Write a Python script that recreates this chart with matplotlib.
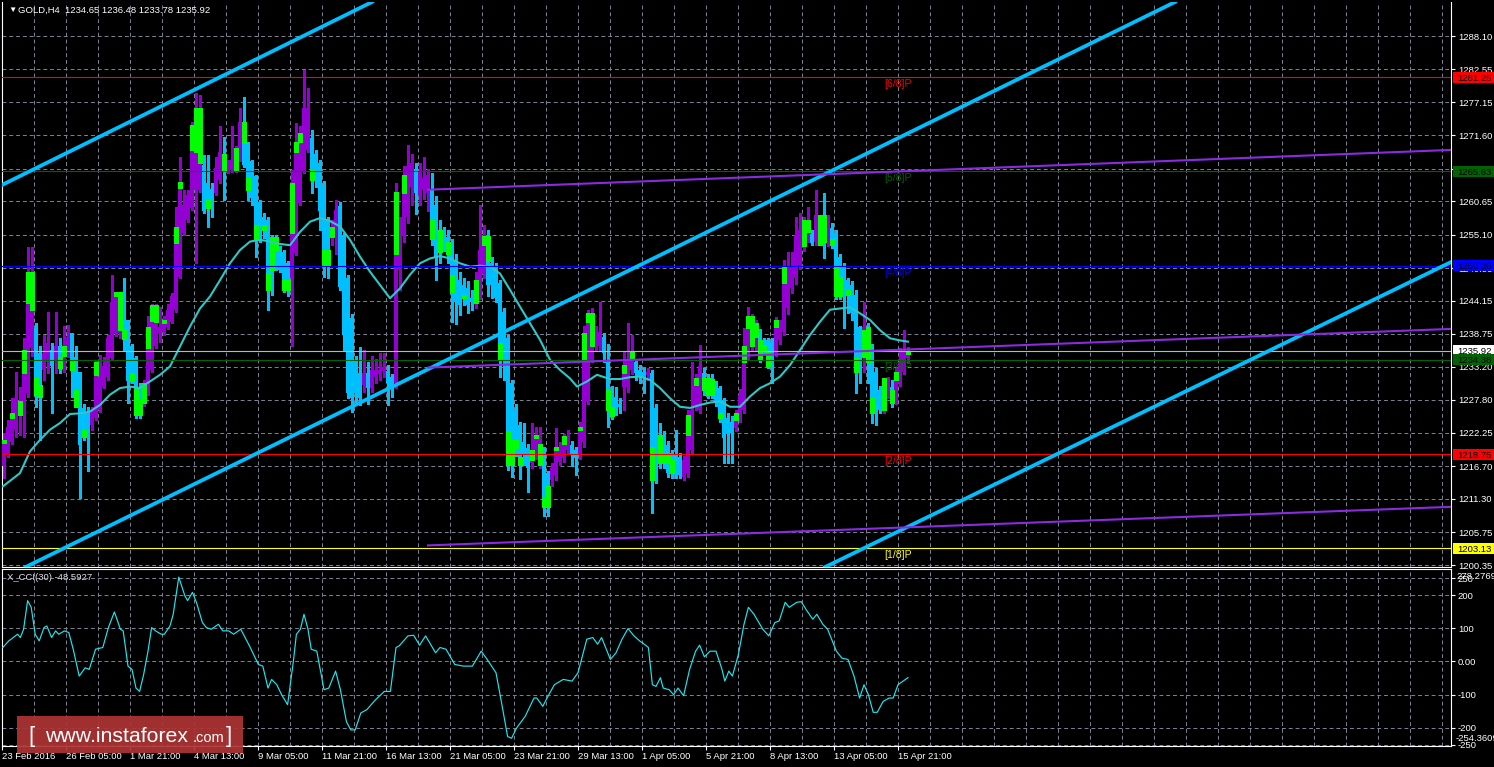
import matplotlib
matplotlib.use("Agg")
import matplotlib.pyplot as plt
from matplotlib.patches import Rectangle
from matplotlib.transforms import blended_transform_factory

plt.rcParams['font.family'] = ['Liberation Sans', 'DejaVu Sans']

# ---- GOLD H4 candles (bar index 0 = 23 Feb 2016) ----
opens = [
    1216.7, 1218.6, 1220.8, 1222.8, 1225.25, 1225.25, 1228.85, 1236.3, 1239.6, 1235.5,
    1232.7, 1234.1, 1236.0, 1234.4, 1236.6, 1232.7, 1235.5, 1238.8, 1234.9, 1232.4,
    1226.4, 1225.8, 1223.6, 1224.7, 1226.1, 1229.95, 1231.6, 1234.65, 1238.8, 1238.8,
    1241.3, 1241.0, 1236.6, 1234.65, 1229.95, 1227.2, 1228.85, 1232.7, 1236.6, 1238.8,
    1239.1, 1239.9, 1240.7, 1242.67, 1248.2, 1255.4, 1257.6, 1259.5, 1262.57, 1262.57,
    1266.7, 1263.7, 1262.8, 1262.0, 1264.2, 1268.6, 1265.9, 1265.9, 1265.9, 1267.5,
    1273.9, 1270.3, 1267.3, 1264.8, 1260.6, 1258.1, 1257.6, 1254.8, 1254.8, 1252.9,
    1252.3, 1250.4, 1247.9, 1252.1, 1260.4, 1265.6, 1269.2, 1271.1, 1268.6, 1267.0,
    1263.4, 1257.6, 1254.8, 1255.1, 1259.9, 1255.1, 1247.9, 1241.3, 1234.4, 1232.2,
    1230.2, 1232.2, 1229.7, 1231.5, 1232.0, 1232.5, 1232.5, 1231.5, 1230.5, 1249.3,
    1255.0, 1258.0, 1263.0, 1266.0, 1261.5, 1262.5, 1262.0, 1262.6, 1260.1, 1255.9,
    1255.4, 1254.8, 1254.0, 1251.0, 1247.6, 1246.8, 1246.3, 1244.6, 1243.8, 1245.1,
    1248.7, 1254.9, 1250.4, 1249.8, 1247.1, 1242.4, 1238.0, 1230.5, 1226.1, 1223.6,
    1220.8, 1219.7, 1217.2, 1218.6, 1216.9, 1219.4, 1215.6, 1214.5, 1215.3, 1217.5,
    1218.1, 1219.4, 1220.3, 1219.4, 1218.6, 1220.8, 1227.4, 1234.4, 1236.6, 1236.6,
    1238.2, 1234.0, 1229.4, 1228.3, 1227.0, 1229.9, 1229.9, 1232.7, 1234.1, 1232.7,
    1232.4, 1231.9, 1232.15, 1226.4, 1221.9, 1221.9, 1220.3, 1218.9, 1218.6, 1218.3,
    1215.0, 1215.6, 1219.45, 1226.6, 1226.1, 1232.15, 1231.3, 1231.2, 1229.7, 1229.7,
    1227.7, 1224.7, 1224.1, 1223.0, 1224.4, 1226.1, 1234.9, 1236.6, 1236.6, 1238.8,
    1237.7, 1237.7, 1237.4, 1235.5, 1237.7, 1239.07, 1242.9, 1246.3, 1247.9, 1250.1,
    1253.2, 1254.5, 1255.3, 1254.0, 1256.5, 1256.2, 1255.1, 1256.2, 1255.3, 1251.5,
    1249.85, 1247.6, 1246.8, 1245.15, 1239.9, 1236.58, 1239.9, 1236.58, 1232.4, 1229.4,
    1226.1, 1228.8, 1229.9, 1228.8, 1230.5, 1232.4, 1234.65,
]
highs = [
    1222.2, 1224.4, 1228.0, 1232.4, 1229.95, 1237.97, 1253.17, 1253.17, 1240.45, 1236.6,
    1238.5, 1242.4, 1237.2, 1242.4, 1238.0, 1240.0, 1240.2, 1238.8, 1236.6, 1232.4,
    1227.0, 1226.6, 1226.6, 1234.4, 1235.2, 1234.9, 1238.5, 1248.47, 1245.7, 1245.7,
    1247.9, 1241.0, 1237.0, 1235.0, 1230.5, 1231.0, 1241.6, 1243.7, 1243.7, 1243.2,
    1241.6, 1243.7, 1245.4, 1259.8, 1268.1, 1262.57, 1262.57, 1273.9, 1278.6, 1278.3,
    1268.4, 1268.4, 1263.7, 1268.1, 1273.1, 1271.4, 1267.5, 1273.1, 1269.8, 1276.1,
    1278.0, 1270.6, 1267.5, 1265.0, 1260.9, 1258.7, 1258.1, 1255.1, 1255.1, 1253.2,
    1252.6, 1250.7, 1265.9, 1273.6, 1273.1, 1282.5, 1279.5, 1272.5, 1269.2, 1267.5,
    1264.0, 1258.0, 1257.5, 1260.9, 1260.5, 1255.5, 1248.5, 1242.0, 1235.0, 1236.5,
    1236.0, 1234.0, 1235.0, 1234.5, 1235.5, 1235.5, 1233.5, 1232.0, 1263.7, 1258.0,
    1266.5, 1270.0, 1268.5, 1267.0, 1267.0, 1268.0, 1266.0, 1265.3, 1261.5, 1257.5,
    1256.5, 1256.0, 1254.5, 1252.0, 1249.0, 1248.0, 1247.5, 1246.0, 1249.0, 1260.1,
    1256.8, 1256.0, 1251.5, 1250.5, 1247.6, 1243.0, 1238.5, 1231.0, 1227.0, 1224.0,
    1223.9, 1220.5, 1223.9, 1223.3, 1223.3, 1220.0, 1216.0, 1217.2, 1223.0, 1220.8,
    1222.0, 1222.8, 1221.0, 1220.0, 1224.0, 1240.0, 1242.7, 1243.0, 1240.0, 1244.0,
    1238.8, 1237.0, 1230.0, 1229.9, 1228.0, 1235.75, 1240.45, 1238.5, 1234.4, 1233.5,
    1233.0, 1233.0, 1232.7, 1227.0, 1223.9, 1222.5, 1221.0, 1219.5, 1222.8, 1219.0,
    1218.5, 1226.0, 1234.1, 1232.0, 1236.9, 1233.0, 1232.0, 1232.0, 1230.8, 1230.0,
    1228.0, 1225.5, 1225.0, 1226.0, 1229.5, 1239.6, 1243.2, 1242.0, 1241.0, 1239.5,
    1238.0, 1238.0, 1238.0, 1241.5, 1241.0, 1250.95, 1252.3, 1252.3, 1258.1, 1258.7,
    1258.0, 1259.8, 1256.0, 1262.6, 1258.4, 1262.0, 1258.4, 1257.0, 1256.0, 1252.0,
    1250.5, 1248.0, 1247.5, 1246.0, 1240.0, 1244.05, 1240.5, 1237.0, 1233.0, 1230.0,
    1230.5, 1231.5, 1231.0, 1233.0, 1236.3, 1239.3, 1236.48,
]
lows = [
    1214.75, 1218.3, 1220.5, 1221.65, 1221.9, 1221.65, 1228.3, 1235.0, 1226.6, 1221.1,
    1231.0, 1232.15, 1225.5, 1232.15, 1232.2, 1232.4, 1234.9, 1228.3, 1226.6, 1211.4,
    1221.1, 1215.9, 1222.8, 1224.4, 1225.8, 1229.7, 1231.0, 1234.4, 1238.3, 1238.0,
    1236.0, 1227.2, 1230.5, 1224.7, 1224.7, 1226.8, 1228.6, 1232.4, 1236.3, 1237.4,
    1238.5, 1239.5, 1240.45, 1242.4, 1247.9, 1255.1, 1257.3, 1259.2, 1250.4, 1262.3,
    1258.7, 1256.5, 1258.1, 1261.7, 1263.7, 1260.9, 1265.3, 1265.6, 1265.6, 1267.3,
    1266.4, 1260.9, 1260.1, 1251.5, 1254.0, 1254.6, 1242.67, 1245.15, 1249.3, 1249.0,
    1245.7, 1244.9, 1236.6, 1251.8, 1260.1, 1265.3, 1268.9, 1262.0, 1263.0, 1255.9,
    1248.2, 1247.9, 1253.5, 1252.0, 1246.0, 1236.0, 1228.0, 1225.8, 1226.9, 1226.9,
    1229.0, 1227.0, 1229.0, 1230.5, 1231.0, 1231.5, 1226.9, 1228.3, 1229.7, 1246.0,
    1254.0, 1257.0, 1260.0, 1258.5, 1260.0, 1261.0, 1259.0, 1253.5, 1247.6, 1250.5,
    1252.5, 1250.5, 1240.7, 1240.4, 1241.8, 1243.5, 1242.1, 1242.7, 1243.0, 1244.5,
    1248.0, 1245.0, 1244.6, 1244.0, 1231.6, 1231.0, 1216.1, 1215.0, 1218.5, 1214.7,
    1217.0, 1212.5, 1216.5, 1218.0, 1216.5, 1208.4, 1208.4, 1213.4, 1214.5, 1217.0,
    1217.5, 1219.0, 1216.7, 1215.3, 1218.0, 1220.0, 1227.0, 1234.0, 1236.0, 1236.0,
    1234.0, 1223.3, 1224.5, 1225.25, 1225.5, 1226.1, 1229.0, 1232.0, 1231.0, 1230.5,
    1228.8, 1231.0, 1208.9, 1213.9, 1216.5, 1216.5, 1215.0, 1214.75, 1214.75, 1214.8,
    1214.5, 1215.0, 1219.0, 1226.0, 1225.5, 1228.5, 1228.0, 1228.0, 1226.8, 1224.0,
    1217.2, 1217.2, 1217.2, 1222.5, 1224.0, 1225.5, 1234.5, 1236.0, 1236.0, 1234.0,
    1235.5, 1233.0, 1230.5, 1235.0, 1237.0, 1238.5, 1242.0, 1245.5, 1247.0, 1249.5,
    1252.5, 1254.0, 1253.4, 1253.5, 1253.4, 1251.2, 1253.2, 1253.0, 1244.5, 1244.5,
    1239.6, 1242.1, 1241.0, 1228.8, 1230.5, 1232.4, 1230.5, 1223.9, 1223.6, 1225.5,
    1225.5, 1228.0, 1226.5, 1227.0, 1230.0, 1232.0, 1233.78,
]
closes = [
    1221.1, 1223.3, 1225.5, 1228.0, 1227.5, 1236.0, 1249.0, 1249.0, 1228.57, 1228.3,
    1235.5, 1237.2, 1233.3, 1236.6, 1233.0, 1236.6, 1238.2, 1232.7, 1226.6, 1220.3,
    1221.6, 1222.5, 1226.1, 1234.1, 1231.6, 1233.3, 1238.0, 1244.05, 1245.7, 1241.8,
    1238.0, 1230.8, 1230.8, 1225.25, 1225.25, 1230.5, 1239.9, 1243.5, 1243.5, 1239.9,
    1241.0, 1242.6, 1244.9, 1256.5, 1263.95, 1260.1, 1261.7, 1273.35, 1276.1, 1276.1,
    1259.0, 1259.5, 1260.9, 1266.2, 1268.9, 1265.9, 1267.3, 1267.5, 1269.5, 1273.9,
    1266.7, 1262.57, 1261.2, 1254.3, 1254.3, 1255.9, 1246.0, 1246.0, 1252.6, 1249.3,
    1246.0, 1246.0, 1263.7, 1270.6, 1272.0, 1276.1, 1276.1, 1264.2, 1264.2, 1259.0,
    1250.1, 1250.1, 1256.5, 1259.2, 1246.5, 1238.5, 1228.8, 1228.0, 1228.8, 1228.0,
    1232.2, 1229.7, 1232.7, 1232.7, 1232.7, 1233.2, 1230.5, 1230.0, 1262.3, 1257.3,
    1265.0, 1266.5, 1267.0, 1262.0, 1265.5, 1264.5, 1265.0, 1254.5, 1251.5, 1252.3,
    1254.8, 1252.0, 1245.7, 1244.0, 1243.5, 1244.6, 1243.5, 1244.0, 1247.7, 1252.6,
    1254.9, 1246.8, 1246.8, 1244.6, 1234.6, 1234.4, 1216.9, 1216.9, 1219.7, 1216.9,
    1218.6, 1216.4, 1219.4, 1221.9, 1221.9, 1210.0, 1210.0, 1216.4, 1220.0, 1219.4,
    1221.7, 1220.8, 1218.6, 1218.1, 1223.3, 1238.8, 1242.1, 1242.1, 1238.8, 1239.0,
    1235.5, 1226.1, 1225.0, 1226.1, 1226.5, 1233.5, 1234.4, 1235.75, 1232.15, 1231.6,
    1231.6, 1232.4, 1214.5, 1214.5, 1217.2, 1217.2, 1215.6, 1215.6, 1215.3, 1215.3,
    1217.8, 1225.25, 1226.1, 1231.3, 1233.3, 1229.4, 1228.6, 1228.6, 1227.5, 1224.7,
    1221.4, 1222.2, 1222.2, 1225.6, 1228.6, 1236.6, 1241.6, 1241.6, 1240.45, 1234.4,
    1236.0, 1233.3, 1233.3, 1241.0, 1240.45, 1249.85, 1249.85, 1249.85, 1255.1, 1255.9,
    1257.6, 1257.6, 1253.7, 1258.4, 1254.8, 1254.0, 1258.1, 1253.4, 1244.9, 1246.0,
    1244.9, 1245.15, 1242.1, 1232.4, 1232.4, 1239.9, 1234.1, 1225.5, 1225.5, 1226.1,
    1229.9, 1231.0, 1227.2, 1232.4, 1234.1, 1235.75, 1235.92,
]

# hollow lime candle parts seen on top of the coloured bodies
lime_bar = [0, 2, 4, 5, 6, 7, 8, 9, 14, 15, 17, 18, 20, 23, 28, 29, 30, 32, 33, 34,
            35, 36, 37, 38, 40, 43, 44, 47, 48, 49, 51, 55, 58, 60, 61, 63, 65, 66, 67, 68,
            70, 71, 72, 73, 74, 77, 80, 81, 82, 98, 100, 107, 109, 111, 112, 115, 118, 120, 121, 124,
            126, 127, 128, 129, 132, 133, 134, 135, 136, 138, 140, 144, 145, 146, 147, 151, 152, 155, 157, 162,
            164, 165, 166, 167, 171, 173, 175, 176, 177, 179, 183, 185, 186, 187, 188, 189, 190, 191, 193, 195,
            200, 201, 204, 205, 207, 208, 209, 211, 213, 215, 216, 217, 220, 222, 223, 226]
lime_lo = [1220.55, 1224.8, 1225.25, 1232.15, 1243.77, 1242.67, 1228.57, 1228.3, 1233.0, 1235.0,
           1232.7, 1226.6, 1221.6, 1231.9, 1244.9, 1239.3, 1237.8, 1230.8, 1225.25, 1225.25,
           1227.2, 1236.3, 1240.9, 1240.7, 1240.45, 1253.7, 1262.84, 1269.2, 1268.9, 1267.0,
           1259.5, 1265.9, 1265.9, 1270.3, 1262.57, 1254.3, 1255.9, 1246.0, 1249.3, 1252.6,
           1246.0, 1246.0, 1255.4, 1268.9, 1270.6, 1264.2, 1250.1, 1250.1, 1254.8, 1252.0,
           1262.0, 1254.5, 1252.3, 1252.0, 1245.7, 1244.6, 1243.8, 1253.4, 1250.7, 1234.6,
           1216.9, 1216.9, 1219.7, 1216.9, 1217.8, 1221.4, 1216.9, 1210.0, 1210.0, 1219.4,
           1220.5, 1222.8, 1234.4, 1240.7, 1236.6, 1226.1, 1225.0, 1232.15, 1234.65, 1214.5,
           1217.2, 1217.2, 1217.2, 1215.6, 1221.9, 1230.2, 1229.4, 1228.6, 1228.6, 1224.7,
           1224.4, 1234.1, 1239.6, 1236.6, 1238.2, 1234.4, 1236.0, 1233.3, 1239.9, 1247.1,
           1253.2, 1255.65, 1253.4, 1254.0, 1253.4, 1244.9, 1244.9, 1245.15, 1232.4, 1234.9,
           1234.1, 1225.5, 1226.1, 1227.2, 1231.0, 1235.3]
lime_hi = [1221.1, 1225.5, 1227.5, 1236.0, 1249.0, 1249.0, 1231.3, 1230.2, 1234.9, 1236.6,
           1234.0, 1229.4, 1222.8, 1234.1, 1245.7, 1245.7, 1239.3, 1232.15, 1229.95, 1227.8,
           1230.5, 1239.9, 1243.5, 1243.5, 1241.0, 1256.5, 1263.95, 1273.35, 1276.1, 1276.1,
           1260.9, 1268.6, 1269.5, 1273.9, 1264.5, 1256.8, 1256.8, 1248.75, 1254.8, 1254.8,
           1247.6, 1247.6, 1263.7, 1270.6, 1272.0, 1265.9, 1252.6, 1252.6, 1256.5, 1262.3,
           1265.0, 1257.6, 1255.9, 1254.0, 1248.5, 1245.2, 1247.7, 1254.9, 1254.9, 1237.1,
           1222.5, 1221.1, 1221.1, 1218.3, 1219.4, 1221.9, 1220.5, 1211.4, 1213.4, 1220.0,
           1221.7, 1223.3, 1238.8, 1242.1, 1242.1, 1229.4, 1226.6, 1233.5, 1235.75, 1220.0,
           1221.9, 1218.9, 1218.6, 1217.8, 1225.25, 1231.3, 1231.3, 1231.3, 1231.2, 1225.6,
           1225.6, 1236.6, 1241.6, 1241.6, 1240.45, 1237.7, 1236.9, 1235.75, 1241.0, 1249.85,
           1257.6, 1257.6, 1258.4, 1258.4, 1254.5, 1249.85, 1248.2, 1246.0, 1234.65, 1239.3,
           1239.9, 1228.0, 1231.3, 1229.4, 1232.4, 1235.92]

# moving average (sampled along the curve)
ma_bar = [-0.25, 4, 6.5, 9, 11.5, 14, 16.5, 19, 21.5, 24,
          26.5, 29, 31.5, 34, 36.5, 39, 41.5, 44, 46.5, 49,
          51.5, 54, 56.5, 59, 61.5, 64, 66.5, 69, 71.5, 74,
          76.5, 79, 81.5, 84, 86.5, 89, 91.5, 94, 96.5, 99,
          101.5, 104, 106.5, 109, 111.5, 114, 116.5, 119, 121.5, 124,
          126.5, 129, 131.5, 134, 136.5, 139, 141.5, 143.25, 145.75, 148.25,
          151.5, 154, 156.5, 159, 161.5, 164, 166.5, 169, 171.5, 174,
          176.5, 179, 181.5, 184, 186.5, 189, 191.5, 194, 196.5, 199,
          201.5, 204, 206.5, 209, 211.5, 214, 216.5, 219, 221.5, 224, 226]
ma_val = [1213.4, 1215.6, 1219.2, 1221.1, 1222.8, 1223.9, 1225.4, 1225.5, 1225.8, 1226.9,
          1228.6, 1229.7, 1229.95, 1229.7, 1230.8, 1231.9, 1233.3, 1236.6, 1239.9, 1242.9,
          1244.9, 1247.6, 1250.4, 1252.6, 1254.0, 1254.3, 1254.0, 1253.6, 1253.4, 1255.6,
          1257.3, 1257.9, 1257.4, 1256.5, 1254.3, 1251.5, 1249.0, 1246.8, 1244.6, 1246.25,
          1248.5, 1250.4, 1251.2, 1251.6, 1251.2, 1250.4, 1249.85, 1250.0, 1249.85, 1248.7,
          1246.0, 1243.2, 1240.45, 1237.7, 1234.4, 1232.7, 1231.3, 1229.95, 1230.8, 1231.9,
          1231.2, 1231.2, 1231.5, 1231.6, 1231.05, 1229.7, 1228.0, 1226.6, 1226.4, 1226.9,
          1227.3, 1227.5, 1226.6, 1226.6, 1228.3, 1229.7, 1230.5, 1231.6, 1233.5, 1236.0,
          1238.5, 1240.7, 1242.7, 1242.9, 1243.1, 1242.1, 1241.0, 1239.3, 1237.96, 1237.6, 1237.4]

# CCI(30)
cci_bar = [-0.3, 1.2, 3.4, 4.1, 4.9, 5.9, 6.8, 7.8, 8.8, 10.0,
           10.7, 11.9, 12.9, 13.7, 15.1, 16.2, 17.3, 18.8, 20.3, 21.3,
           22.9, 24.7, 26.1, 27.6, 29.1, 29.8, 31.0, 32.0, 33.0, 33.9,
           34.9, 36.0, 36.9, 37.9, 39.3, 40.1, 41.5, 42.3, 43.7, 45.2,
           45.9, 47.1, 48.1, 49.6, 50.6, 51.8, 53.6, 54.7, 56.2, 57.4,
           59.2, 61.4, 63.6, 64.7, 66.0, 66.9, 68.2, 69.4, 70.9, 72.4,
           73.1, 74.1, 75.0, 76.0, 76.8, 78.2, 80.0, 81.2, 82.9, 84.1,
           85.6, 86.7, 87.8, 89.2, 90.7, 92.9, 95.1, 96.6, 98.0, 98.8,
           101.0, 102.4, 103.9, 105.4, 107.9, 109.0, 110.5, 112.7, 114.9, 117.1,
           119.3, 120.8, 123.0, 124.4, 125.9, 126.9, 128.1, 130.3, 132.5, 133.2,
           134.7, 136.2, 137.6, 139.8, 142.0, 143.5, 145.7, 147.2, 148.4, 149.4,
           151.6, 153.0, 154.5, 156.0, 157.5, 158.9, 160.4, 161.1, 162.1, 163.0,
           164.1, 164.8, 166.3, 167.4, 168.5, 169.9, 171.4, 172.9, 173.9, 175.1,
           176.5, 178.0, 179.5, 180.2, 181.2, 182.1, 183.6, 185.0, 186.1, 187.5,
           189.7, 191.2, 192.7, 193.8, 195.3, 196.3, 198.2, 199.3, 200.7, 202.2,
           203.2, 204.7, 205.9, 208.1, 209.5, 211.0, 212.5, 213.9, 215.0, 216.1,
           217.3, 218.3, 219.8, 221.3, 222.3, 223.5, 226]
cci_val = [42, 62, 82, 72, 97, 183, 163, 82, 62, 102,
           107, 72, 92, 82, 92, 87, 37, -44, -19, -24,
           37, 42, 102, 149, 97, 92, -14, -24, -80, -90,
           -40, 31, 102, 92, 82, 82, 107, 142, 254, 198,
           183, 208, 178, 117, 102, 97, 112, 92, 92, 82,
           97, 46, -9, -14, -80, -54, -70, -100, -130, 6,
           82, 97, 142, 97, 37, 31, -85, -80, -29, -85,
           -181, -206, -206, -155, -145, -115, -90, -90, 42, 47,
           77, 79, 49, 77, 26, 42, 37, -9, -14, -14,
           31, 6, -34, -125, -226, -231, -201, -165, -110, -110,
           -135, -100, -70, -54, -59, -34, 67, 72, 52, 72,
           6, 26, 67, 99, 77, 62, 49, 42, -70, -75,
           -49, -80, -85, -100, -80, -103, -24, 31, 49, 14,
           31, 31, -24, -59, -29, -44, 21, 112, 163, 142,
           97, 77, 117, 122, 178, 163, 178, 180, 153, 127,
           142, 112, 97, 31, 10, 6, -44, -110, -70, -100,
           -153, -153, -120, -110, -110, -70, -48.5927]
cci_max = 278.2769
cci_min = -254.3609
cci_levels = [250, 200, 100, 0, -100, -200, -250]
cci_labels = ['250', '200', '100', '0.00', '-100', '-200', '-250']

price_ticks = [1288.10, 1282.55, 1277.15, 1271.60, 1266.05, 1260.65, 1255.10, 1249.55, 1244.15,
               1238.75, 1233.20, 1227.80, 1222.25, 1216.70, 1211.30, 1205.75, 1200.35]

# Murrey math levels
murrey_levels = [1281.25, 1265.63, 1250.00, 1234.38, 1218.75, 1203.13]
murrey_names = ['[6/8]P', '[5/8]P', '[4/8]P', '[3/8]P', '[2/8]P', '[1/8]P']
murrey_colors = ['#ff0000', '#006400', '#0000ff', '#006400', '#ff0000', '#ffff00']

# channel (two anchor points each, bar / price)
channel_lines = [((-0.5, 1263.39), (92.0, 1293.74)),
                 ((6.5, 1200.37), (292.75, 1293.74)),
                 ((205.25, 1200.0), (361.75, 1250.6))]
# purple trend lines
trend_lines = [((106, 1262.6), (361.75, 1269.2)),
               ((106, 1233.1), (361.75, 1239.51)),
               ((106, 1203.6), (361.75, 1210.0))]

date_labels = ['23 Feb 2016', '26 Feb 05:00', '1 Mar 21:00', '4 Mar 13:00', '9 Mar 05:00',
               '11 Mar 21:00', '16 Mar 13:00', '21 Mar 05:00', '23 Mar 21:00', '29 Mar 13:00',
               '1 Apr 05:00', '5 Apr 21:00', '8 Apr 13:00', '13 Apr 05:00', '15 Apr 21:00']

assert len(opens) == len(highs) == len(lows) == len(closes)

# ---- figure ----
W, H = 1494, 767
fig = plt.figure(figsize=(W / 100, H / 100), dpi=100, facecolor='black')


def axes_px(x0, y0, x1, y1):
    return fig.add_axes([x0 / W, 1 - y1 / H, (x1 - x0) / W, (y1 - y0) / H], facecolor='black')


ax = axes_px(2, 2, 1451, 567)
axc = axes_px(2, 569, 1451, 746)

GRID = '#7a8596'
DASH = (0, (4, 3))
FS = 6.8
n = len(closes)
bars = list(range(n))

for a in (ax, axc):
    a.set_xlim(-0.5, 361.75)
    for k in range(1, 46):
        a.axvline(8 * k - 0.5, color=GRID, lw=0.7, ls=DASH, zorder=0)
    for s in a.spines.values():
        s.set_color('white')
        s.set_linewidth(0.8)
ax.spines['top'].set_visible(False)

# ---- main price panel ----
ax.set_ylim(1200.02, 1293.74)
for v in price_ticks:
    ax.axhline(v, color=GRID, lw=0.7, ls=DASH, zorder=0)

cols = ['#9400d3' if c >= o else '#00bfff' for o, c in zip(opens, closes)]
ax.vlines(bars, lows, highs, colors=cols, lw=0.75, zorder=2, antialiased=False)
bottoms = [min(o, c) for o, c in zip(opens, closes)]
heights = [max(abs(c - o), 0.2) for o, c in zip(opens, closes)]
ax.bar(bars, heights, bottom=bottoms, width=0.78, color=cols, lw=0, zorder=3,
       antialiased=False)

# lime outline: thin strokes on both sides of the body
lx = [b - 0.27 for b in lime_bar] + [b + 0.27 for b in lime_bar]
ax.vlines(lx, lime_lo + lime_lo, lime_hi + lime_hi, colors='#00ff00', lw=0.8, zorder=4,
          antialiased=False)

ax.plot(ma_bar, ma_val, color='#2ec8c8', lw=1.5, zorder=5)

for lvl, c in zip(murrey_levels, murrey_colors):
    ax.axhline(lvl, color=c, lw=0.8, zorder=5.5)
ax.axhline(closes[-1], color='#b4b8c0', lw=0.8, zorder=5.5)

for p1, p2 in channel_lines:
    ax.axline(p1, p2, color='#00bfff', lw=2.7, zorder=6)
for p1, p2 in trend_lines:
    ax.plot([p1[0], p2[0]], [p1[1], p2[1]], color='#8a2be2', lw=1.5, zorder=6)

for lvl, name, c in zip(murrey_levels, murrey_names, murrey_colors):
    ax.annotate(name, xy=(223.5, lvl), xytext=(0, -2), textcoords='offset pixels',
                ha='center', va='top', color=c, fontsize=7.5, zorder=7)

ax.yaxis.tick_right()
ax.set_yticks(price_ticks)
ax.set_yticklabels([f'{v:.2f}' for v in price_ticks])
ax.tick_params(axis='y', colors='white', labelsize=FS, length=3, width=0.8, pad=2)
ax.tick_params(axis='x', bottom=False, labelbottom=False)

tr = blended_transform_factory(fig.transFigure, ax.transData)
box_h = 11 * (1293.74 - 1200.02) / 565
box_items = list(zip(murrey_levels, murrey_colors))
box_items.insert(3, (closes[-1], '#ffffff'))
for lvl, c in box_items:
    ax.add_patch(Rectangle((1453 / W, lvl - box_h / 2), 41 / W, box_h, transform=tr,
                           facecolor=c, edgecolor='none', clip_on=False, zorder=10))
    ax.text(1457 / W, lvl, f'{lvl:.2f}', transform=tr, color='black', fontsize=FS,
            ha='left', va='center_baseline', clip_on=False, zorder=11)

# ---- CCI panel ----
axc.set_ylim(cci_min, cci_max)
for v in cci_levels:
    axc.axhline(v, color=GRID, lw=0.7, ls=DASH, zorder=0)
axc.plot(cci_bar, cci_val, color='#1ee6f0', lw=0.85, zorder=3)
axc.yaxis.tick_right()
axc.set_yticks(cci_levels)
axc.set_yticklabels(cci_labels)
axc.tick_params(axis='y', colors='white', labelsize=FS, length=3, width=0.8, pad=2)
axc.annotate(f'{cci_max:.4f}', xy=(1, 1), xycoords='axes fraction', xytext=(5, -3),
             textcoords='offset pixels', color='white', fontsize=FS, va='top', ha='left')
axc.annotate(f'{cci_min:.4f}', xy=(1, 0), xycoords='axes fraction', xytext=(5, 3),
             textcoords='offset pixels', color='white', fontsize=FS, va='bottom', ha='left')

axc.set_xticks([16 * k - 0.5 for k in range(len(date_labels))])
axc.set_xticklabels(date_labels, ha='left')
axc.tick_params(axis='x', colors='white', labelsize=FS, length=3, width=0.8, pad=1)

# ---- header texts ----
fig.text(8 / W, 1 - 10 / H, '\u25bc', color='white', fontsize=6, va='center', ha='left')
fig.text(18 / W, 1 - 10 / H,
         f'GOLD,H4  {opens[-1]:.2f} {highs[-1]:.2f} {lows[-1]:.2f} {closes[-1]:.2f}',
         color='white', fontsize=FS, va='center', ha='left')
fig.text(7 / W, 1 - 578 / H, f'X_CCI(30) {cci_val[-1]:.4f}', color='#e0e0e0',
         fontsize=FS, va='center', ha='left')

# ---- watermark ----
fig.add_artist(Rectangle((17 / W, 1 - 753 / H), 226 / W, 37 / H, transform=fig.transFigure,
                         facecolor='#ad3434', edgecolor='none', alpha=0.93))
fig.text(28 / W, 1 - 742 / H, '[', color='white', fontsize=16, va='baseline', ha='left')
fig.text(45 / W, 1 - 742 / H, 'www.instaforex', color='white', fontsize=15.3,
         va='baseline', ha='left')
fig.text(193 / W, 1 - 742 / H, '.com', color='white', fontsize=10.5, va='baseline', ha='left')
fig.text(226 / W, 1 - 742 / H, ']', color='white', fontsize=16, va='baseline', ha='left')

fig.savefig('out.png', dpi=100, facecolor='black')
